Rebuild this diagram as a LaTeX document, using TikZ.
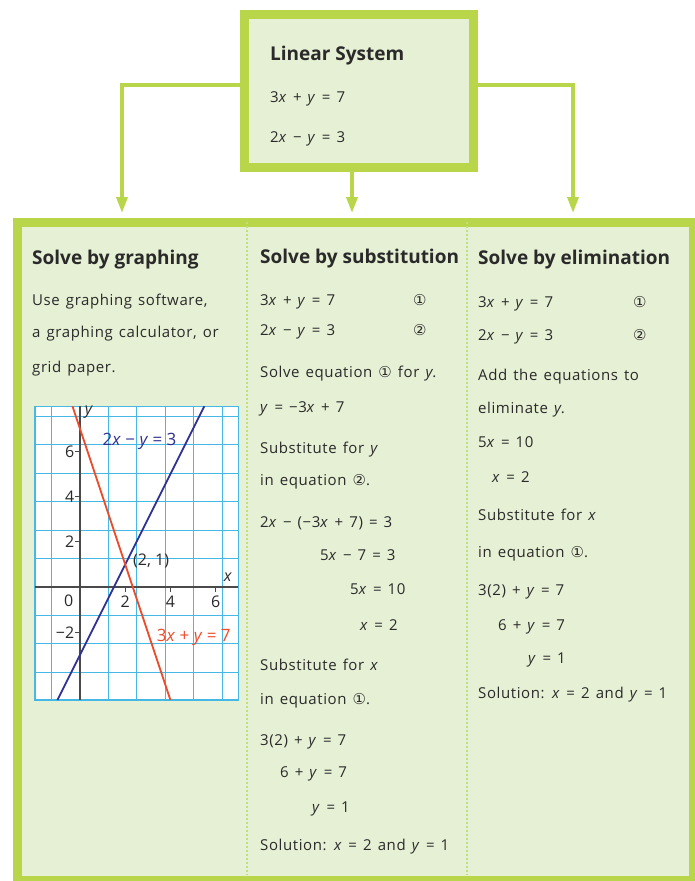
\documentclass[tikz,border=0pt]{standalone}
\usepackage{fontspec}
\setmainfont{Open Sans}
\newfontfamily\handfam[LetterSpace=4,WordSpace=1.35]{Open Sans}
\newfontfamily\circfont{DejaVu Sans}
\usetikzlibrary{arrows.meta,positioning}
\definecolor{ink}{HTML}{2A2A2A}
\definecolor{framegreen}{HTML}{B9D64A}
\definecolor{panel}{HTML}{E6F0D4}
\definecolor{dashgreen}{HTML}{C3DE7E}
\definecolor{gridblue}{HTML}{45B8E6}
\definecolor{linered}{HTML}{EE4B2B}
\definecolor{lineblue}{HTML}{2E3192}
\newcommand\headfont{\fontsize{19}{22}\selectfont\bfseries}
\newcommand\handfont{\handfam\fontsize{15}{18}\selectfont}
\newcommand\tickfont{\fontsize{16}{18}\selectfont}
\newcommand\vx{\textit{x}}
\newcommand\vy{\textit{y}}
\newcommand\cone{{\circfont ①}}
\newcommand\ctwo{{\circfont ②}}
\tikzset{
  box/.style={draw=framegreen, fill=panel, line width=9pt, inner sep=0pt},
  head/.style={font=\headfont, text=ink, anchor=base west, inner sep=0pt},
  hand/.style={font=\handfont, text=ink, anchor=base west, inner sep=0pt},
  arrow/.style={-{Triangle[length=16pt,width=11pt]}, line width=3.5pt, draw=framegreen},
  colsep/.style={draw=dashgreen, line width=1.6pt, dash pattern=on 2pt off 2pt},
  gridline/.style={draw=gridblue, line width=0.9pt},
  axisline/.style={draw=ink!85, line width=1.1pt},
  ticklabel/.style={font=\tickfont, text=ink, inner sep=1pt},
  linelabel/.style={ticklabel, font=\fontsize{17}{19}\selectfont, anchor=west},
}
\begin{document}
\begin{tikzpicture}[x=1pt,y=-1pt]
\useasboundingbox (0,0) rectangle (695,881);
\node[box, minimum width=229pt, minimum height=153pt] (sys) at (359,91) {};
\node[box, minimum width=676pt, minimum height=658pt, anchor=north west] (panel) at (12.5,217.5) {};
\coordinate (a1) at (122,213); \coordinate (a2) at (352,213); \coordinate (a3) at (573,213);
\draw[arrow] ([yshift=6pt]sys.west) -| (a1); \draw[arrow] (sys.south -| a2) -- (a2); \draw[arrow] ([yshift=6pt]sys.east) -| (a3);
\coordinate (s1t) at (247,222); \coordinate (s1b) at (247,875); \coordinate (s2t) at (467,222); \coordinate (s2b) at (467,875);
\draw[colsep] (s1t) -- (s1b); \draw[colsep] (s2t) -- (s2b);

\node[head] (syshead) at (270,60) {Linear System};
\node[hand] (syseq1) at (270,102) {3\vx\ + \vy\ = 7};
\node[hand] (syseq2) at (270,142) {2\vx\ − \vy\ = 3};

\node[head] (ghead) at (32,264) {Solve by graphing};
\node[hand] (g1) at (32,305) {Use graphing software,};
\node[hand] (g2) at (32,337) {a graphing calculator, or};
\node[hand] (g3) at (32,372) {grid paper.};

\begin{scope}[shift={(80,587)}, x=22.6pt, y=22.6pt]
\fill[white] (-2,-5) rectangle (7,8);
\draw[gridline] (-2,-5) grid (7,8);
\draw[gridline, line width=1.4pt] (-2,-5) rectangle (7,8);
\draw[axisline] (-2,0) -- (7,0); \draw[axisline] (0,-5) -- (0,8);
\foreach \t in {2,4,6} {\draw[axisline] (-0.2,\t) -- (0,\t); \draw[axisline] (\t,0) -- (\t,-0.2);}
\draw[axisline] (-0.2,-2) -- (0,-2);
\begin{scope}
\clip (-2,-5) rectangle (7,8);
\draw[lineblue, line width=1.8pt] (-1,-5) -- (5.5,8);
\draw[linered, line width=1.8pt] (-1/3,8) -- (4,-5);
\end{scope}
\node[ticklabel, anchor=east] (ty6) at (-0.2,6) {6};
\node[ticklabel, anchor=east] (ty4) at (-0.2,4) {4};
\node[ticklabel, anchor=east] (ty2) at (-0.2,2) {2};
\node[ticklabel, anchor=east] (tym2) at (-0.2,-2) {−2};
\node[ticklabel] (t0) at (-0.5,-0.6) {0};
\node[ticklabel] (tx2) at (2,-0.65) {2};
\node[ticklabel] (tx4) at (4,-0.65) {4};
\node[ticklabel] (tx6) at (6,-0.65) {6};
\node[ticklabel] (xlab) at (6.55,0.45) {\vx};
\node[ticklabel] (ylab) at (0.4,7.75) {\vy};
\node[ticklabel, anchor=west] (pt) at (2.3,1.15) {(2, 1)};
\node[linelabel, text=lineblue] (blab) at (0.95,6.45) {2\vx\ − \vy\ = 3};
\node[linelabel, text=linered] (rlab) at (3.35,-2.25) {3\vx\ + \vy\ = 7};
\end{scope}

\node[head] (shead) at (260,263) {Solve by substitution};
\node[hand] (s1) at (260,305) {3\vx\ + \vy\ = 7};
\node[hand] (s1n) at (413,305) {\cone};
\node[hand] (s2) at (260,335) {2\vx\ − \vy\ = 3};
\node[hand] (s2n) at (413,335) {\ctwo};
\node[hand] (s3) at (260,377) {Solve equation \cone\ for \vy.};
\node[hand] (s4) at (260,412) {\vy\ = −3\vx\ + 7};
\node[hand] (s5) at (260,453) {Substitute for \vy};
\node[hand] (s6) at (260,485) {in equation \ctwo.};
\node[hand] (s7) at (260,527) {2\vx\ − (−3\vx\ + 7) = 3};
\node[hand] (s8) at (320,560) {5\vx\ − 7 = 3};
\node[hand] (s9) at (350,594) {5\vx\ = 10};
\node[hand] (s10) at (360,630) {\vx\ = 2};
\node[hand] (s11) at (260,670) {Substitute for \vx};
\node[hand] (s12) at (260,704) {in equation \cone.};
\node[hand] (s13) at (260,745) {3(2) + \vy\ = 7};
\node[hand] (s14) at (280,777) {6 + \vy\ = 7};
\node[hand] (s15) at (312,812) {\vy\ = 1};
\node[hand] (s16) at (260,850) {Solution: \vx\ = 2 and \vy\ = 1};

\node[head] (ehead) at (478,264) {Solve by elimination};
\node[hand] (e1) at (478,307) {3\vx\ + \vy\ = 7};
\node[hand] (e1n) at (633,307) {\cone};
\node[hand] (e2) at (478,340) {2\vx\ − \vy\ = 3};
\node[hand] (e2n) at (633,340) {\ctwo};
\node[hand] (e3) at (478,380) {Add the equations to};
\node[hand] (e4) at (478,413) {eliminate \vy.};
\node[hand] (e5) at (478,447) {5\vx\ = 10};
\node[hand] (e6) at (492,482) {\vx\ = 2};
\node[hand] (e7) at (478,520) {Substitute for \vx};
\node[hand] (e8) at (478,557) {in equation \cone.};
\node[hand] (e9) at (478,595) {3(2) + \vy\ = 7};
\node[hand] (e10) at (498,630) {6 + \vy\ = 7};
\node[hand] (e11) at (528,663) {\vy\ = 1};
\node[hand] (e12) at (478,698) {Solution: \vx\ = 2 and \vy\ = 1};
\end{tikzpicture}
\end{document}
